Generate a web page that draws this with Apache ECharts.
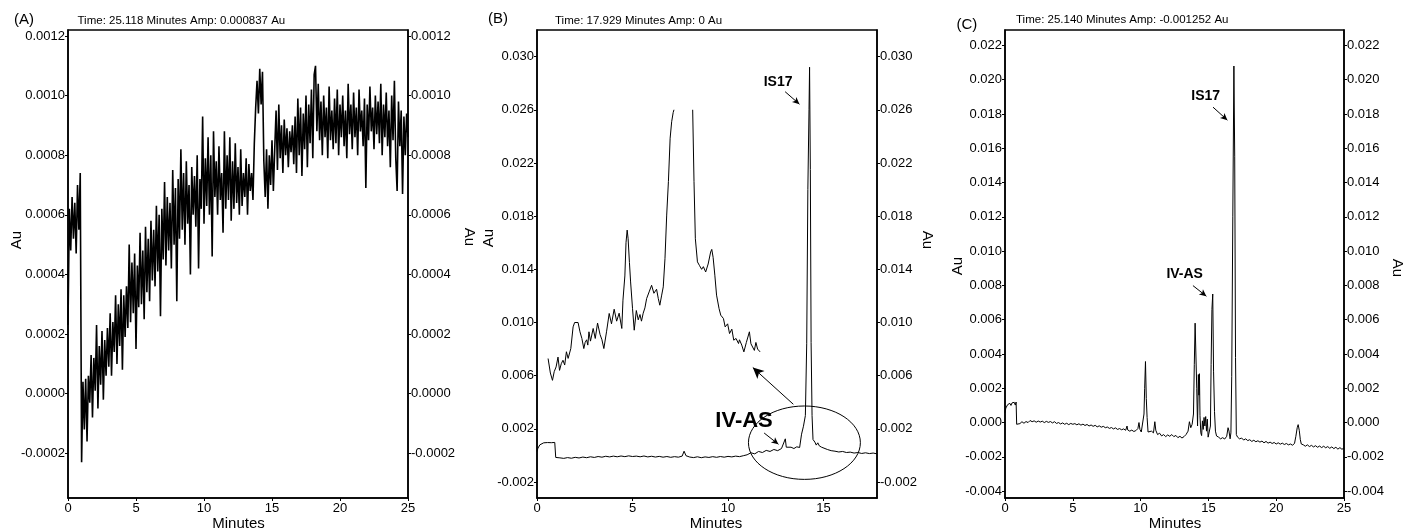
<!DOCTYPE html>
<html>
<head>
<meta charset="utf-8">
<title>Chromatograms A–C</title>
<script src="https://cdn.jsdelivr.net/npm/echarts@6/dist/echarts.min.js"></script>
<style>
  html, body { margin: 0; padding: 0; background: #fff; }
  #chart { width: 1403px; height: 531px; }
</style>
</head>
<body>
<div id="chart"></div>
<script>
// ---------- panel headings ----------
const panelTags = ['(A)', '(B)', '(C)'];
const panelHeaders = [
  'Time: 25.118 Minutes Amp: 0.000837 Au',
  'Time: 17.929 Minutes Amp: 0 Au',
  'Time: 25.140 Minutes Amp: -0.001252 Au'
];
const timeTitle = 'Minutes';
const auTitle = 'Au';

// ---------- axis ranges and tick labels ----------
const timeMax = [25, 17.8, 25];
const timeTicksA = [0, 5, 10, 15, 20, 25];
const timeTicksB = [0, 5, 10, 15];
const timeTicksC = [0, 5, 10, 15, 20, 25];
const auRangeA = [-0.00035, 0.00122];
const auRangeB = [-0.0032, 0.032];
const auRangeC = [-0.0044, 0.0229];
const auTicksA = [-0.0002, 0, 0.0002, 0.0004, 0.0006, 0.0008, 0.0010, 0.0012];
const auTicksB = [-0.002, 0.002, 0.006, 0.010, 0.014, 0.018, 0.022, 0.026, 0.030];
const auTicksC = [-0.004, -0.002, 0, 0.002, 0.004, 0.006, 0.008, 0.010, 0.012, 0.014, 0.016, 0.018, 0.020, 0.022];

// ---------- (A) blank run, detector sampled every 0.1 min, values in mAU ----------
const sampleStepA = 0.1;
const traceA_mAU = [
  0.23,0.62,0.48,0.66,0.52,0.64,0.47,0.70,0.55,0.74,
  -0.23,0.04,-0.12,0.05,-0.16,0.06,-0.03,0.13,-0.08,0.12,
  0.01,0.23,-0.05,0.16,0.03,0.21,-0.02,0.18,0.06,0.22,
  0.09,0.27,0.06,0.24,0.14,0.33,0.10,0.30,0.16,0.35,
  0.08,0.33,0.19,0.36,0.22,0.50,0.24,0.44,0.27,0.47,
  0.15,0.43,0.29,0.54,0.30,0.48,0.25,0.56,0.34,0.52,
  0.31,0.58,0.38,0.55,0.36,0.63,0.41,0.60,0.26,0.62,
  0.45,0.71,0.43,0.66,0.48,0.64,0.42,0.75,0.50,0.69,
  0.31,0.72,0.52,0.82,0.55,0.74,0.50,0.78,0.57,0.70,
  0.40,0.76,0.60,0.73,0.56,0.80,0.42,0.72,0.62,0.93,
  0.57,0.79,0.63,0.86,0.60,0.80,0.46,0.88,0.66,0.78,
  0.60,0.83,0.65,0.74,0.54,0.88,0.62,0.80,0.65,0.86,
  0.58,0.78,0.62,0.84,0.64,0.76,0.60,0.82,0.63,0.74,
  0.66,0.79,0.60,0.77,0.68,0.74,0.65,0.84,0.96,1.05,
  0.94,1.09,0.97,1.08,0.78,0.66,0.82,0.62,0.80,0.70,
  0.85,0.68,0.82,0.95,0.75,0.97,0.79,0.90,0.74,0.92,
  0.80,0.89,0.76,0.88,0.81,0.90,0.77,0.93,0.74,0.99,
  0.80,0.96,0.73,0.94,0.82,1.00,0.76,0.97,0.84,1.02,
  0.79,1.07,1.10,0.88,1.04,0.85,0.98,0.80,1.00,0.86,
  0.96,0.79,1.03,0.85,0.95,0.82,0.99,0.84,1.02,0.80,
  0.97,0.86,1.00,0.83,0.95,0.79,1.04,0.87,0.97,0.82,
  1.01,0.86,0.96,0.80,1.02,0.88,0.95,0.83,0.99,0.69,
  0.97,0.85,1.03,0.88,0.96,0.82,1.00,0.87,0.98,0.84,
  1.04,0.80,0.97,0.86,1.01,0.83,0.95,0.76,1.00,0.85,
  1.05,0.79,0.68,0.98,0.83,0.95,0.67,0.93,0.80,0.94,
  0.86
];

// ---------- (B) sample run: [minutes, mAU] ----------
const traceB_mAU = [
  [0.0,0.30],[0.05,0.55],[0.15,0.80],[0.25,0.88],[0.35,0.95],[0.45,0.90],[0.55,0.97],[0.65,1.00],
  [0.75,0.96],[0.85,1.00],[0.93,0.98],[0.98,-0.15],[1.05,-0.24],[1.2,-0.18],[1.4,-0.22],[1.6,-0.16],
  [1.8,-0.21],[2.0,-0.14],[2.2,-0.19],[2.4,-0.12],[2.6,-0.17],[2.8,-0.10],[3.0,-0.15],[3.2,-0.08],
  [3.4,-0.13],[3.6,-0.06],[3.8,-0.11],[4.0,-0.05],[4.2,-0.10],[4.4,-0.04],[4.6,-0.09],[4.8,-0.03],
  [5.0,-0.08],[5.2,-0.05],[5.4,-0.10],[5.6,-0.04],[5.8,-0.11],[6.0,-0.06],[6.2,-0.12],[6.4,-0.07],
  [6.6,-0.13],[6.8,-0.08],[7.0,-0.14],[7.2,-0.09],[7.4,-0.13],[7.6,-0.05],[7.7,0.32],[7.8,-0.02],
  [8.0,-0.12],[8.2,-0.16],[8.4,-0.10],[8.6,-0.17],[8.8,-0.11],[9.0,-0.15],[9.2,-0.09],[9.4,-0.14],
  [9.6,-0.08],[9.8,-0.13],[10.0,-0.07],[10.2,-0.11],[10.4,-0.05],[10.6,-0.09],[10.8,-0.02],[11.0,0.05],
  [11.2,0.20],[11.4,0.12],[11.6,0.30],[11.8,0.22],[12.0,0.38],[12.2,0.30],[12.4,0.45],[12.6,0.36],
  [12.8,0.52],[12.9,0.48],[13.0,1.25],[13.05,0.62],[13.15,0.55],[13.3,0.62],[13.45,0.52],[13.6,0.65],
  [13.75,0.60],[13.85,1.6],[13.95,2.2],[14.05,3.0],[14.12,8.4],[14.18,20.0],[14.24,26.0],[14.27,29.2],
  [14.31,21.5],[14.35,8.5],[14.4,3.0],[14.45,1.2],[14.55,1.0],[14.62,0.78],[14.7,0.95],[14.78,0.72],
  [14.9,0.62],[15.0,0.50],[15.2,0.45],[15.4,0.36],[15.6,0.32],[15.8,0.26],[16.0,0.30],[16.2,0.22],
  [16.4,0.25],[16.6,0.18],[16.8,0.22],[17.0,0.15],[17.2,0.20],[17.4,0.14],[17.6,0.18],[17.8,0.12]
];

// (B) magnified early section drawn above the baseline; null marks the clipped top
const insetB_mAU = [
  [0.58,7.29],[0.7,6.2],[0.81,5.65],[0.9,6.3],[1.0,6.66],[1.1,7.4],[1.18,6.4],[1.27,6.9],
  [1.36,7.16],[1.45,6.8],[1.54,7.8],[1.63,7.3],[1.77,8.04],[1.89,9.67],[1.97,10.0],[2.06,9.9],
  [2.15,10.0],[2.25,9.3],[2.35,8.8],[2.45,8.04],[2.52,8.5],[2.6,8.7],[2.66,8.3],[2.72,9.3],
  [2.8,8.6],[2.94,9.55],[3.05,8.8],[3.17,9.96],[3.3,9.1],[3.4,8.7],[3.5,8.04],[3.64,9.3],
  [3.78,10.68],[3.9,9.9],[4.04,11.0],[4.17,10.1],[4.3,10.7],[4.44,9.55],[4.5,11.68],[4.6,13.5],
  [4.66,16.0],[4.72,16.95],[4.77,16.3],[4.84,14.5],[4.9,13.05],[5.0,11.07],[5.09,9.42],[5.2,10.9],
  [5.3,10.2],[5.39,10.6],[5.47,10.1],[5.56,10.7],[5.65,11.1],[5.74,11.8],[5.87,12.3],[6.0,12.8],
  [6.12,12.2],[6.26,12.5],[6.35,11.8],[6.43,11.3],[6.52,12.0],[6.61,12.68],[6.7,14.8],[6.79,18.08],
  [6.88,20.6],[6.97,23.86],[7.05,25.1],[7.13,25.8],[7.17,26.0],[7.6,null],
  [8.15,26.0],[8.22,20.6],[8.29,16.3],[8.4,14.56],[8.5,14.3],[8.62,14.0],[8.71,14.2],[8.83,13.8],
  [8.96,14.4],[9.09,15.3],[9.15,15.5],[9.22,14.9],[9.31,13.56],[9.4,12.06],[9.53,11.05],[9.62,10.55],
  [9.76,10.3],[9.85,9.67],[9.98,9.9],[10.08,9.17],[10.2,9.5],[10.3,8.67],[10.42,8.8],[10.55,8.42],
  [10.6,8.7],[10.72,8.3],[10.83,7.79],[10.96,8.5],[11.06,8.6],[11.12,9.3],[11.2,8.4],[11.29,8.5],
  [11.38,7.9],[11.46,8.5],[11.55,8.0],[11.68,7.79]
];

// ---------- (C) spiked sample: [minutes, mAU] ----------
const traceC_mAU = [
  [0.0,0.57],[0.06,0.85],[0.12,0.95],[0.2,1.05],[0.28,0.98],[0.36,1.12],[0.44,1.0],[0.52,1.15],
  [0.6,1.05],[0.68,1.18],[0.76,1.02],[0.82,1.2],[0.86,-0.1],[0.95,0.0],[1.1,-0.06],[1.25,0.05],
  [1.4,-0.04],[1.55,0.06],[1.7,0.0],[1.85,0.12],[2.0,0.05],[2.15,0.1],[2.3,0.02],[2.45,0.09],
  [2.6,0.03],[2.75,0.08],[2.9,0.0],[3.05,0.07],[3.2,0.01],[3.35,0.06],[3.5,-0.02],[3.65,0.05],
  [3.8,-0.05],[3.95,0.0],[4.1,-0.08],[4.25,-0.02],[4.4,-0.1],[4.55,-0.04],[4.7,-0.12],[4.85,-0.05],
  [5.0,-0.1],[5.15,-0.06],[5.3,-0.13],[5.45,-0.07],[5.6,-0.15],[5.75,-0.09],[5.9,-0.17],[6.05,-0.11],
  [6.2,-0.2],[6.35,-0.14],[6.5,-0.22],[6.65,-0.16],[6.8,-0.25],[6.95,-0.19],[7.1,-0.27],[7.25,-0.22],
  [7.4,-0.3],[7.55,-0.26],[7.7,-0.34],[7.85,-0.29],[8.0,-0.37],[8.15,-0.31],[8.3,-0.4],[8.45,-0.35],
  [8.6,-0.42],[8.75,-0.37],[8.9,-0.45],[9.0,-0.2],[9.05,-0.43],[9.2,-0.5],[9.35,-0.44],[9.5,-0.52],
  [9.65,-0.47],[9.8,-0.35],[9.88,0.0],[9.95,-0.4],[10.05,-0.55],[10.15,-0.45],[10.25,0.5],[10.3,2.0],
  [10.36,3.56],[10.42,1.4],[10.48,0.3],[10.55,-0.55],[10.65,-0.65],[10.8,-0.5],[10.95,-0.6],[11.05,0.05],
  [11.12,-0.45],[11.25,-0.7],[11.4,-0.62],[11.55,-0.78],[11.7,-0.7],[11.85,-0.82],[12.0,-0.72],[12.15,-0.8],
  [12.3,-0.7],[12.45,-0.82],[12.6,-0.75],[12.75,-0.88],[12.9,-0.8],[13.05,-0.9],[13.2,-0.82],[13.35,-0.7],
  [13.5,-0.5],[13.6,0.05],[13.7,-0.3],[13.8,-0.1],[13.9,0.5],[13.96,3.4],[14.02,5.8],[14.08,5.7],
  [14.14,2.0],[14.2,-0.2],[14.26,2.8],[14.3,1.6],[14.34,2.85],[14.38,0.4],[14.44,-0.6],[14.5,-0.76],
  [14.56,0.1],[14.62,-0.4],[14.68,0.3],[14.74,-0.2],[14.8,0.35],[14.86,-0.5],[14.92,0.2],[14.98,-0.85],
  [15.07,-0.95],[15.15,-0.2],[15.2,3.4],[15.26,6.6],[15.32,7.5],[15.38,3.0],[15.45,0.64],[15.52,-0.5],
  [15.6,-0.78],[15.75,-0.85],[15.9,-0.95],[16.05,-0.88],[16.2,-0.96],[16.35,-0.8],[16.45,-0.3],[16.52,-0.5],
  [16.6,-0.95],[16.66,-0.6],[16.72,2.7],[16.8,12.0],[16.88,20.8],[16.94,15.5],[17.0,3.8],[17.06,-0.7],
  [17.15,-0.85],[17.3,-0.95],[17.45,-0.9],[17.6,-1.02],[17.75,-0.95],[17.9,-1.05],[18.05,-1.0],[18.2,-1.1],
  [18.35,-1.03],[18.5,-1.12],[18.65,-1.06],[18.8,-1.14],[18.95,-1.08],[19.1,-1.18],[19.25,-1.1],[19.4,-1.2],
  [19.55,-1.14],[19.7,-1.22],[19.85,-1.16],[20.0,-1.25],[20.15,-1.18],[20.3,-1.26],[20.45,-1.2],[20.6,-1.28],
  [20.75,-1.22],[20.9,-1.3],[21.05,-1.25],[21.2,-1.32],[21.35,-1.22],[21.45,-0.8],[21.55,-0.3],[21.62,-0.12],
  [21.7,-0.45],[21.78,-1.0],[21.85,-1.25],[22.0,-1.3],[22.15,-1.38],[22.3,-1.3],[22.45,-1.4],[22.6,-1.33],
  [22.75,-1.42],[22.9,-1.35],[23.05,-1.44],[23.2,-1.37],[23.35,-1.46],[23.5,-1.38],[23.65,-1.47],[23.8,-1.4],
  [23.95,-1.5],[24.1,-1.42],[24.25,-1.52],[24.4,-1.44],[24.55,-1.55],[24.7,-1.46],[24.85,-1.56],[25.0,-1.48]
];

// ---------- peak annotations (minutes, mAU) ----------
const labelsB = [['IS17', 12.62, 28.1], ['IV-AS', 10.84, 2.57]];
const arrowsB = [[12.99, 27.36, 13.74, 26.42], [11.89, 1.69, 12.64, 0.84], [13.42, 3.85, 11.3, 6.61]];
const ringB = [14.0, 0.96, 2.93, 2.76];   // centre t, centre mAU, half-width min, half-height mAU
const labelsC = [['IS17', 14.8, 19.04], ['IV-AS', 13.25, 8.68]];
const arrowsC = [[15.34, 18.4, 16.4, 17.64], [13.86, 7.99, 14.85, 7.37]];

// ---------- build ----------
const FONT = '"Liberation Sans", Arial, Helvetica, sans-serif';
const INK = '#000';
const toAu = v => v / 1000;
const pairsToAu = arr => arr.map(p => [p[0], p[1] == null ? '-' : toAu(p[1])]);

const dataA = traceA_mAU.map((v, i) => [+(i * sampleStepA).toFixed(2), toAu(v)]);
const dataB = pairsToAu(traceB_mAU);
const dataInset = pairsToAu(insetB_mAU);
const dataC = pairsToAu(traceC_mAU);

const grids = [
  { left: 68, top: 30, width: 340, height: 468 },
  { left: 537, top: 30, width: 340, height: 468 },
  { left: 1005, top: 30, width: 339, height: 468 }
];

const timeTicks = [timeTicksA, timeTicksB, timeTicksC];
const auRanges = [auRangeA, auRangeB, auRangeC];
const auTicks = [auTicksA, auTicksB, auTicksC];
const auDigits = [4, 3, 3];

const xAxes = grids.map((g, i) => ({
  type: 'value', gridIndex: i, min: 0, max: timeMax[i],
  axisLine: { show: true, onZero: false, lineStyle: { color: INK, width: 1.5 } },
  axisTick: { show: true, length: 3, customValues: timeTicks[i], lineStyle: { color: INK } },
  axisLabel: { customValues: timeTicks[i], margin: 4, fontFamily: FONT, fontSize: 13, color: INK },
  splitLine: { show: false }
}));

const yAxes = [];
grids.forEach((g, i) => {
  ['left', 'right'].forEach(side => {
    yAxes.push({
      type: 'value', gridIndex: i, position: side,
      min: auRanges[i][0], max: auRanges[i][1],
      axisLine: { show: true, onZero: false, lineStyle: { color: INK, width: 1.5 } },
      axisTick: { show: true, length: 3, customValues: auTicks[i], lineStyle: { color: INK } },
      axisLabel: {
        customValues: auTicks[i], margin: 3, fontFamily: FONT, fontSize: 13, color: INK,
        formatter: v => Number(v).toFixed(auDigits[i])
      },
      splitLine: { show: false }
    });
  });
});

const lineBase = {
  type: 'line', showSymbol: false, symbol: 'none', silent: true,
  lineStyle: { color: INK, width: 1 }, connectNulls: false
};

const arrowLines = (arrows, bigIndex) => arrows.map((a, i) => [
  { coord: [a[0], toAu(a[1])], symbol: 'none' },
  { coord: [a[2], toAu(a[3])], symbol: 'arrow', symbolSize: i === bigIndex ? [8, 11] : [5, 7] }
]);

const markLineStyle = data => ({
  silent: true, animation: false, label: { show: false },
  lineStyle: { color: INK, width: 1, type: 'solid' },
  emphasis: { disabled: true },
  data
});

const series = [
  Object.assign({}, lineBase, { xAxisIndex: 0, yAxisIndex: 0, data: dataA,
    lineStyle: { color: INK, width: 1.6 } }),
  Object.assign({}, lineBase, { xAxisIndex: 1, yAxisIndex: 2, data: dataB,
    markLine: markLineStyle(arrowLines(arrowsB, 2)) }),
  Object.assign({}, lineBase, { xAxisIndex: 1, yAxisIndex: 2, data: dataInset }),
  Object.assign({}, lineBase, { xAxisIndex: 2, yAxisIndex: 4, data: dataC,
    markLine: markLineStyle(arrowLines(arrowsC, -1)) })
];

const chart = echarts.init(document.getElementById('chart'));
chart.setOption({
  animation: false,
  backgroundColor: '#fff',
  grid: grids.map(g => Object.assign({
    show: true, borderColor: INK, borderWidth: 1.5, backgroundColor: 'transparent',
    containLabel: false, outerBoundsMode: 'none'
  }, g)),
  xAxis: xAxes,
  yAxis: yAxes,
  series
});

// ---------- text, rings and axis titles ----------
const txt = (x, y, text, size, opts) => Object.assign({
  type: 'text', x, y, silent: true,
  style: Object.assign({
    text, fill: INK, fontFamily: FONT, fontSize: size,
    align: 'left', verticalAlign: 'middle', textAlign: 'left', textVerticalAlign: 'middle'
  }, (opts && opts.style) || {})
}, opts && opts.rotation != null ? { rotation: opts.rotation } : {});

const centered = { align: 'center', textAlign: 'center' };
const elements = [];

// panel tags and run headers
const tagPos = [[14, 20], [488, 18.5], [956.5, 25]];
const headerPos = [[77.5, 21], [555, 21], [1016, 20]];
panelTags.forEach((t, i) => elements.push(txt(tagPos[i][0], tagPos[i][1], t, 15)));
panelHeaders.forEach((t, i) => elements.push(txt(headerPos[i][0], headerPos[i][1], t, 11.5)));

// time-axis titles under each panel
const timeTitlePos = [[238.5, 524], [716, 524], [1175, 524]];
timeTitlePos.forEach(p => elements.push(txt(p[0], p[1], timeTitle, 15, { style: centered })));

// "Au" titles beside each vertical axis
const auTitlePos = [[17, 240, 1], [469, 237, -1], [489, 238, 1], [927, 240, -1], [958, 266, 1], [1397, 268, -1]];
auTitlePos.forEach(p => elements.push(txt(p[0], p[1], auTitle, 15, { style: centered, rotation: p[2] * Math.PI / 2 })));

const px = (g, t, mAU) => chart.convertToPixel({ gridIndex: g }, [t, toAu(mAU)]);

// peak names
labelsB.forEach(l => {
  const p = px(1, l[1], l[2]);
  elements.push(txt(p[0], p[1], l[0], l[0] === 'IV-AS' ? 22 : 14, { style: Object.assign({ fontWeight: 'bold' }, centered) }));
});
labelsC.forEach(l => {
  const p = px(2, l[1], l[2]);
  elements.push(txt(p[0], p[1], l[0], 14, { style: Object.assign({ fontWeight: 'bold' }, centered) }));
});

// ring around the magnified region
const c = px(1, ringB[0], ringB[1]);
const ex = px(1, ringB[0] + ringB[2], ringB[1]);
const ey = px(1, ringB[0], ringB[1] + ringB[3]);
elements.push({
  type: 'ellipse', silent: true,
  shape: { cx: c[0], cy: c[1], rx: Math.abs(ex[0] - c[0]), ry: Math.abs(c[1] - ey[1]) },
  style: { fill: 'none', stroke: INK, lineWidth: 1 }
});

chart.setOption({ graphic: { elements } });
</script>
</body>
</html>
